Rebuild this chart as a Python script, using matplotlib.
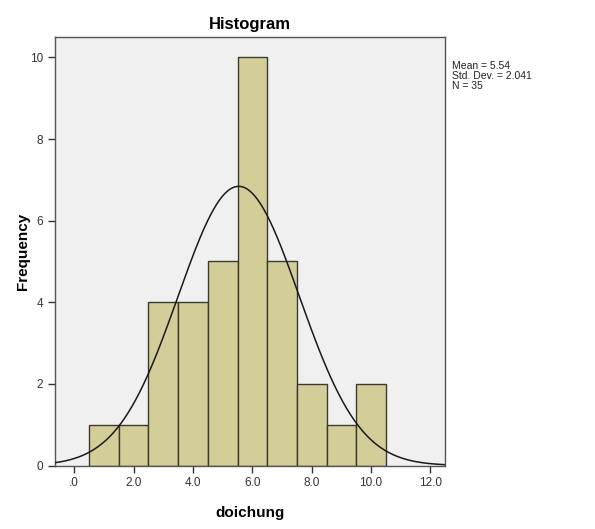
import numpy as np
import matplotlib.pyplot as plt

plt.rcParams['font.family'] = ['Liberation Sans', 'DejaVu Sans']

# bin centres and counts
bin_centers = [1, 2, 3, 4, 5, 6, 7, 8, 9, 10]
counts = [1, 1, 4, 4, 5, 10, 5, 2, 1, 2]
mean = 5.54
std = 2.041
n = 35
x_ticks = [0, 2, 4, 6, 8, 10, 12]
x_tick_labels = ['.0', '2.0', '4.0', '6.0', '8.0', '10.0', '12.0']
y_ticks = [0, 2, 4, 6, 8, 10]

fig = plt.figure(figsize=(5.95, 5.29), dpi=100)
ax = fig.add_axes([0.0924, 0.12, 0.656, 0.81])
ax.set_facecolor('#f0f0f0')

ax.bar(bin_centers, counts, width=1, color='#d3ce98', edgecolor='#3a3a30', linewidth=1.0, zorder=2)

xs = np.linspace(-0.65, 12.5, 400)
pdf = n * 1.0 / (std * np.sqrt(2 * np.pi)) * np.exp(-0.5 * ((xs - mean) / std) ** 2)
ax.plot(xs, pdf, color='#1a1a1a', linewidth=1.1, zorder=3)

ax.set_xlim(-0.65, 12.5)
ax.set_ylim(0, 10.5)
ax.set_xticks(x_ticks)
ax.set_xticklabels(x_tick_labels)
ax.set_yticks(y_ticks)
ax.tick_params(axis='both', direction='out', length=5, width=1, color='#333333', labelsize=8.5, labelcolor='#333333')
for s in ax.spines.values():
    s.set_color('#555555')
    s.set_linewidth(1)

ax.set_title('Histogram', fontsize=12, fontweight='bold', pad=6)
ax.set_xlabel('doichung', fontsize=11, fontweight='bold')
ax.set_ylabel('Frequency', fontsize=11, fontweight='bold')
ax.xaxis.set_label_coords(0.5, -0.095)
ax.yaxis.set_label_coords(-0.065, 0.5)

fig.text(0.76, 0.885, 'Mean = %.2f\nStd. Dev. = %.3f\nN = %d' % (mean, std, n),
         fontsize=7.5, va='top', ha='left', linespacing=1.0, color='#222222')

fig.savefig('out.png', dpi=100)
